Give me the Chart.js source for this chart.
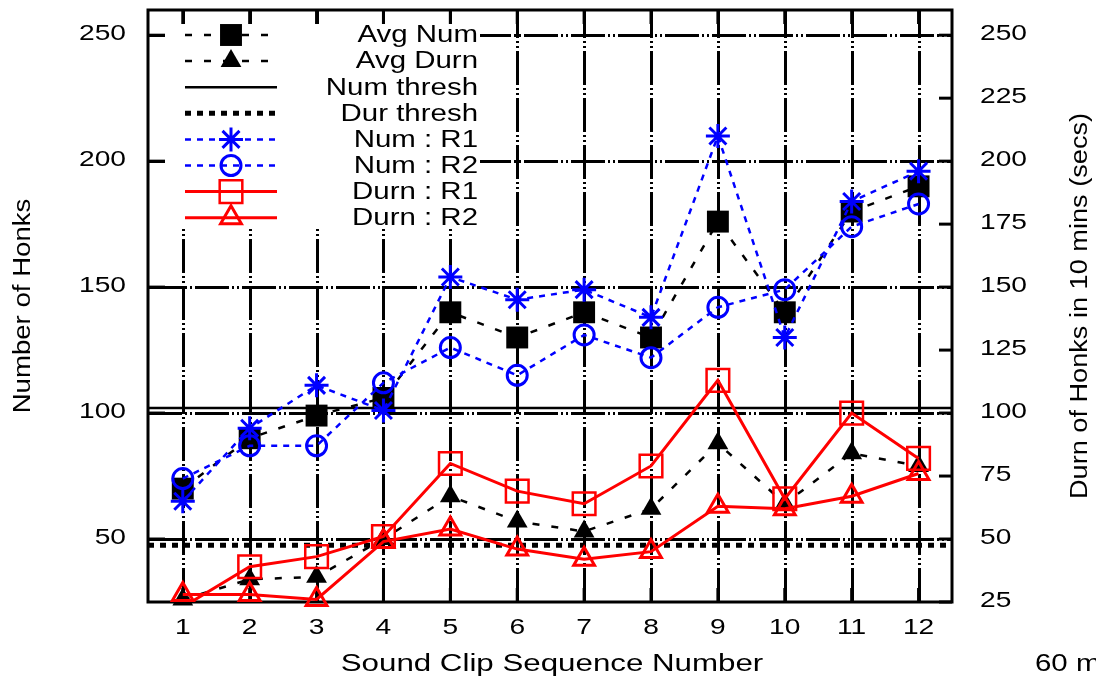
<!DOCTYPE html>
<html>
<head>
<meta charset="utf-8">
<title>Honks per sound clip</title>
<script src="https://cdn.jsdelivr.net/npm/chart.js@4/dist/chart.umd.min.js"></script>
<style>
  html, body { margin: 0; padding: 0; background: #fff; }
  #wrap { width: 1096px; height: 679px; }
</style>
</head>
<body>
<div id="wrap"><canvas id="c" width="1096" height="679"></canvas></div>
<script>
// Sound clip sequence numbers
const clips = [1, 2, 3, 4, 5, 6, 7, 8, 9, 10, 11, 12];

// Number of honks per clip (left axis)
const avgNum = [70, 90, 99, 106, 140, 130, 140, 130, 176, 140, 180, 190];
const numR1  = [65, 94, 111, 101, 154, 145, 149, 138, 210, 130, 184, 196];
const numR2  = [74, 87, 87, 112, 126, 115, 131, 122, 142, 149, 174, 183];

// Duration of honks in 10 minutes, seconds (right axis)
const avgDurn = [26, 34, 35, 50, 67, 57, 53, 62, 88, 64, 84, 79];
const durnR1  = [23, 39, 43, 51, 80, 69, 64, 79, 113, 66, 100, 82];
const durnR2  = [28, 28, 26, 49, 54, 46, 42, 45, 63, 62, 67, 76];

// Thresholds
const numThresh = 102;
const durThresh = 47.5;

// Axis ranges and tick labels
const xRange = [0.48, 12.5];
const yRange = [25, 260];
const leftTicks  = [50, 100, 150, 200, 250];
const rightTicks = [25, 50, 75, 100, 125, 150, 175, 200, 225, 250];

const BLUE = '#0000ff', RED = '#ff0000', BLACK = '#000000', NONE = 'rgba(0,0,0,0)';
const FONT = '"Liberation Sans", Arial, sans-serif';

const pts = arr => clips.map((x, i) => ({ x, y: arr[i] }));
const flat = v => [{ x: xRange[0], y: v }, { x: xRange[1], y: v }];
// markers whose value falls below the axis are left out, the line is cut at the frame
const radiusInRange = r => c => (c.parsed && c.parsed.y < yRange[0]) ? 0 : r;

const datasets = [
  { label: 'Avg Num', data: pts(avgNum), borderColor: BLACK, borderWidth: 2.5, borderDash: [7, 12],
    pointStyle: 'rect', pointRadius: 15.5, pointBackgroundColor: BLACK, pointBorderColor: BLACK, pointBorderWidth: 0 },
  { label: 'Avg Durn', data: pts(avgDurn), borderColor: BLACK, borderWidth: 2.5, borderDash: [7, 12],
    pointStyle: 'triangle', pointRadius: 12, pointBackgroundColor: BLACK, pointBorderColor: BLACK, pointBorderWidth: 0, yAxisID: 'y2' },
  { label: 'Num thresh', data: flat(numThresh), borderColor: BLACK, borderWidth: 2.5, pointRadius: 0 },
  { label: 'Dur thresh', data: flat(durThresh), borderColor: BLACK, borderWidth: 5, borderDash: [6, 6],
    pointRadius: 0, yAxisID: 'y2' },
  { label: 'Num : R1', data: pts(numR1), borderColor: BLUE, borderWidth: 2.5, borderDash: [6, 6],
    pointStyle: 'star', pointRadius: 12, pointBackgroundColor: NONE, pointBorderColor: BLUE, pointBorderWidth: 3 },
  { label: 'Num : R2', data: pts(numR2), borderColor: BLUE, borderWidth: 2.5, borderDash: [6, 6],
    pointStyle: 'circle', pointRadius: 10, pointBackgroundColor: NONE, pointBorderColor: BLUE, pointBorderWidth: 3 },
  { label: 'Durn : R1', data: pts(durnR1), borderColor: RED, borderWidth: 3,
    pointStyle: 'rect', pointRadius: 16, pointBackgroundColor: NONE, pointBorderColor: RED, pointBorderWidth: 2.5, yAxisID: 'y2' },
  { label: 'Durn : R2', data: pts(durnR2), borderColor: RED, borderWidth: 3,
    pointStyle: 'triangle', pointRadius: 12, pointBackgroundColor: NONE, pointBorderColor: RED, pointBorderWidth: 3, yAxisID: 'y2' }
];
// later series are painted on top of earlier ones
datasets.forEach((d, i) => {
  d.order = -i; d.tension = 0; d.fill = false;
  const inRange = d.data.every(p => p.y >= yRange[0]);
  if (inRange) d.clip = false;
  else d.pointRadius = radiusInRange(d.pointRadius);
});

// stretched text helper (wide, plotter-style lettering)
function text(ctx, str, x, y, opt) {
  const o = Object.assign({ size: 22, sx: 1.28, align: 'center', rot: 0 }, opt || {});
  ctx.save();
  ctx.translate(x, y);
  if (o.rot) ctx.rotate(o.rot);
  ctx.scale(o.sx, 1);
  ctx.font = o.size + 'px ' + FONT;
  ctx.fillStyle = BLACK;
  ctx.textAlign = o.align;
  ctx.textBaseline = 'middle';
  ctx.fillText(str, 0, 0);
  ctx.restore();
}

const KEY = { left: 165, top: 24, right: 480, bottom: 228, row0: 35, rowH: 26.1,
              lineFrom: 185, lineTo: 277, mark: 231, textRight: 478 };

const framePlugin = {
  id: 'frame',
  beforeDatasetsDraw(chart) {
    const { ctx, chartArea: a, scales } = chart;
    ctx.save();
    // dotted grid
    ctx.strokeStyle = BLACK;
    ctx.lineWidth = 3;
    ctx.setLineDash([34, 3, 2, 3, 2, 3]);
    scales.x.ticks.forEach(t => {
      const px = Math.round(scales.x.getPixelForValue(t.value)) + 0.5;
      ctx.beginPath(); ctx.moveTo(px, a.bottom); ctx.lineTo(px, a.top); ctx.stroke();
    });
    scales.y.ticks.forEach(t => {
      const py = Math.round(scales.y.getPixelForValue(t.value)) + 0.5;
      ctx.beginPath(); ctx.moveTo(a.left, py); ctx.lineTo(a.right, py); ctx.stroke();
    });
    ctx.setLineDash([]);
    // key background
    ctx.fillStyle = '#ffffff';
    ctx.fillRect(KEY.left, KEY.top, KEY.right - KEY.left, KEY.bottom - KEY.top);
    // inward tick marks
    ctx.lineWidth = 3;
    const tl = 14;
    scales.x.ticks.forEach(t => {
      const px = scales.x.getPixelForValue(t.value);
      ctx.beginPath(); ctx.moveTo(px, a.top); ctx.lineTo(px, a.top + tl);
      ctx.moveTo(px, a.bottom); ctx.lineTo(px, a.bottom - tl); ctx.stroke();
    });
    scales.y.ticks.forEach(t => {
      const py = scales.y.getPixelForValue(t.value);
      ctx.beginPath(); ctx.moveTo(a.left, py); ctx.lineTo(a.left + 17, py); ctx.stroke();
    });
    scales.y2.ticks.forEach(t => {
      const py = scales.y2.getPixelForValue(t.value);
      ctx.beginPath(); ctx.moveTo(a.right, py); ctx.lineTo(a.right - 13, py); ctx.stroke();
    });
    // plot frame
    ctx.strokeRect(a.left, a.top, a.right - a.left, a.bottom - a.top);
    ctx.restore();
  },
  afterDatasetsDraw(chart) {
    const { ctx } = chart;
    const H = Chart.helpers;
    datasets.forEach((d, i) => {
      const y = KEY.row0 + i * KEY.rowH;
      const r = typeof d.pointRadius === 'function' ? d.pointRadius({}) : d.pointRadius;
      ctx.save();
      ctx.strokeStyle = d.borderColor;
      ctx.lineWidth = d.borderWidth;
      ctx.setLineDash(d.borderDash || []);
      ctx.beginPath(); ctx.moveTo(KEY.lineFrom, y); ctx.lineTo(KEY.lineTo, y); ctx.stroke();
      ctx.setLineDash([]);
      if (r > 0) {
        ctx.fillStyle = d.pointBackgroundColor;
        ctx.strokeStyle = d.pointBorderColor;
        ctx.lineWidth = d.pointBorderWidth;
        H.drawPoint(ctx, { pointStyle: d.pointStyle, radius: r, rotation: 0,
                           borderWidth: d.pointBorderWidth }, KEY.mark, y);
      }
      ctx.restore();
      text(ctx, d.label, KEY.textRight, y + 1, { size: 23, align: 'right' });
    });
  },
  afterDraw(chart) {
    const { ctx, chartArea: a, scales } = chart;
    scales.y.ticks.forEach(t => text(ctx, String(t.value), 126, scales.y.getPixelForValue(t.value) - 1, { align: 'right' }));
    scales.y2.ticks.forEach(t => text(ctx, String(t.value), 980, scales.y2.getPixelForValue(t.value) - 1, { align: 'left' }));
    scales.x.ticks.forEach(t => text(ctx, String(t.value), scales.x.getPixelForValue(t.value), 628));
    text(ctx, 'Sound Clip Sequence Number', (a.left + a.right) / 2 + 2, 665, { size: 23, sx: 1.36 });
    text(ctx, 'Number of Honks', 24, (a.top + a.bottom) / 2, { size: 23, sx: 1.2, rot: -Math.PI / 2 });
    text(ctx, 'Durn of Honks in 10 mins (secs)', 1081, (a.top + a.bottom) / 2, { size: 23, sx: 1.18, rot: -Math.PI / 2 });
    text(ctx, '60 mins', 1035, 665, { size: 23, align: 'left' });
  }
};

const hidden = { ticks: { display: false }, grid: { display: false }, border: { display: false } };

new Chart(document.getElementById('c'), {
  type: 'line',
  data: { datasets },
  options: {
    responsive: false,
    animation: false,
    devicePixelRatio: 1,
    events: [],
    layout: { autoPadding: false, padding: { top: 10, left: 0, right: 0, bottom: 0 } },
    plugins: { legend: { display: false }, tooltip: { enabled: false } },
    scales: {
      x: Object.assign({ type: 'linear', min: xRange[0], max: xRange[1],
        afterBuildTicks: s => { s.ticks = clips.map(v => ({ value: v })); },
        afterFit: s => { s.height = 77; } }, hidden),
      y: Object.assign({ type: 'linear', position: 'left', min: yRange[0], max: yRange[1],
        afterBuildTicks: s => { s.ticks = leftTicks.map(v => ({ value: v })); },
        afterFit: s => { s.width = 148; } }, hidden),
      y2: Object.assign({ type: 'linear', position: 'right', min: yRange[0], max: yRange[1],
        afterBuildTicks: s => { s.ticks = rightTicks.map(v => ({ value: v })); },
        afterFit: s => { s.width = 144; } }, hidden)
    }
  },
  plugins: [framePlugin]
});
</script>
</body>
</html>
